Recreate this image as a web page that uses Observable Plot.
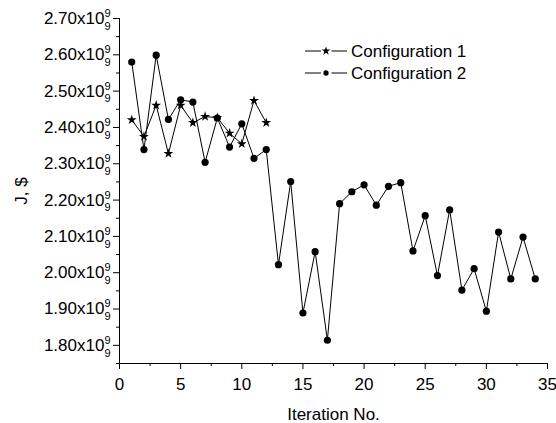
<!DOCTYPE html>
<html><head><meta charset="utf-8">
<script src="https://cdn.jsdelivr.net/npm/d3@7"></script>
<script src="https://cdn.jsdelivr.net/npm/@observablehq/plot@0.6"></script>
<style>
body{margin:0;background:#fff;}
#chart{position:relative;width:556px;height:423px;font-family:"Liberation Sans",Arial,sans-serif;}
#legend{position:absolute;left:0;top:0;pointer-events:none;}
</style></head><body><div id="chart"></div>
<script>
const seriesNames = ["Configuration 1", "Configuration 2"];
const iterations1 = [1,2,3,4,5,6,7,8,9,10,11,12];
const config1 = [2.421,2.375,2.461,2.328,2.461,2.413,2.430,2.427,2.384,2.355,2.474,2.413]; // x1e9
const iterations2 = [1,2,3,4,5,6,7,8,9,10,11,12,13,14,15,16,17,18,19,20,21,22,23,24,25,26,27,28,29,30,31,32,33,34];
const config2 = [2.580,2.339,2.599,2.422,2.476,2.470,2.304,2.426,2.346,2.410,2.315,2.339,2.022,2.251,1.889,2.058,1.814,2.190,2.223,2.242,2.186,2.238,2.248,2.060,2.157,1.992,2.173,1.952,2.011,1.894,2.112,1.983,2.098,1.983]; // x1e9
const xTicks = [0,5,10,15,20,25,30,35];
const xMinorTicks = [2.5,7.5,12.5,17.5,22.5,27.5,32.5];
const yTicks = [1.80,1.90,2.00,2.10,2.20,2.30,2.40,2.50,2.60,2.70];
const yMinorTicks = [1.75,1.85,1.95,2.05,2.15,2.25,2.35,2.45,2.55,2.65];

const data1 = iterations1.map((x,i)=>({x, y: config1[i]*1e9}));
const data2 = iterations2.map((x,i)=>({x, y: config2[i]*1e9}));

const font = '"Liberation Sans", Arial, sans-serif';
const plot = Plot.plot({
  width: 556, height: 423,
  marginLeft: 119, marginRight: 9, marginTop: 18, marginBottom: 60,
  style: {fontFamily: font, fontSize: "17px", color: "#000", background: "#fff", overflow: "visible"},
  x: {domain: [0, 35]},
  y: {domain: [1.75e9, 2.70e9]},
  marks: [
    Plot.axisX(xTicks, {tickSize: 6, tickPadding: 8, label: "Iteration No.", labelAnchor: "center", labelArrow: "none", labelOffset: 56}),
    Plot.axisX(xMinorTicks, {tickSize: 3, text: null, label: null}),
    Plot.axisY(yTicks.map(v=>v*1e9), {tickSize: 6, tickPadding: 3, tickFormat: d => (d/1e9).toFixed(2) + "x10", label: "J, $", labelAnchor: "center", labelArrow: "none", labelOffset: 105}),
    Plot.axisY(yMinorTicks.map(v=>v*1e9), {tickSize: 3, text: null, label: null}),
    Plot.ruleX([0], {stroke: "#000"}),
    Plot.ruleY([1.75e9], {stroke: "#000"}),
    Plot.line(data2, {x: "x", y: "y", stroke: "#000", strokeWidth: 1}),
    Plot.dot(data2, {x: "x", y: "y", r: 3.6, fill: "#000", stroke: null, symbol: "circle"}),
    Plot.line(data1, {x: "x", y: "y", stroke: "#000", strokeWidth: 1}),
    Plot.dot(data1, {x: "x", y: "y", r: 3.1, fill: "#000", stroke: null, symbol: "star"})
  ]
});
document.getElementById("chart").appendChild(plot);

// superscript exponent on y tick labels
d3.select(plot).selectAll('g[aria-label="y-axis tick label"] text').each(function(){
  const t = d3.select(this);
  t.append("tspan").attr("font-size", "11px").attr("dy", "-7").text("9");
});

// legend
const leg = d3.select("#chart").append("svg").attr("id","legend").attr("width",556).attr("height",423)
  .style("font-family", font).style("font-size","17px");
const symbols = [d3.symbolStar, d3.symbolCircle];
const sizes = [24, 22];
seriesNames.forEach((name, i) => {
  const cy = 51 + 22*i;
  const g = leg.append("g");
  g.append("line").attr("x1",305).attr("x2",321).attr("y1",cy).attr("y2",cy).attr("stroke","#000");
  g.append("line").attr("x1",331.5).attr("x2",347).attr("y1",cy).attr("y2",cy).attr("stroke","#000");
  g.append("path").attr("d", d3.symbol(symbols[i], sizes[i])()).attr("transform",`translate(326,${cy})`).attr("fill","#000");
  g.append("text").attr("x",351).attr("y",cy+6).attr("fill","#000").text(name);
});
</script></body></html>
